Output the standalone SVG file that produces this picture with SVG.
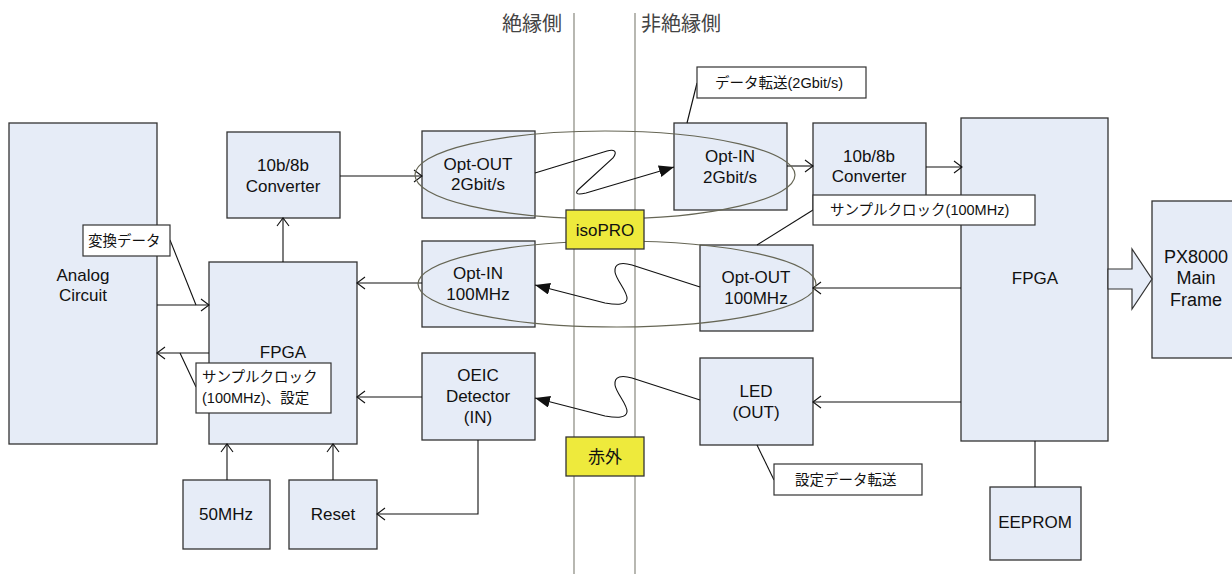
<svg xmlns="http://www.w3.org/2000/svg" width="1232" height="574" viewBox="0 0 1232 574">
<style>
.n{fill:#e6ecf7;stroke:#333;stroke-width:1.3}
.lb{fill:#fff;stroke:#333;stroke-width:1.2}
.y{fill:#eeea3c;stroke:#333;stroke-width:1.3}
.t{font-family:"Liberation Sans","Noto Sans CJK JP",sans-serif;font-size:17px;fill:#111;text-anchor:middle}
.s{font-family:"Liberation Sans","Noto Sans CJK JP",sans-serif;font-size:14.5px;fill:#111}
.h{font-family:"Noto Sans CJK JP",sans-serif;font-size:20px;fill:#444}
.c{fill:none;stroke:#111;stroke-width:1.1}
.a{marker-end:url(#oa)}
.f{marker-end:url(#fa)}
.e{fill:none;stroke:#666655;stroke-width:1.2}
.v{stroke:#88887e;stroke-width:1.2}
</style>
<defs>
<marker id="oa" markerWidth="12" markerHeight="14" refX="10" refY="7" orient="auto" markerUnits="userSpaceOnUse"><polyline points="2,1 10,7 2,13" fill="none" stroke="#111" stroke-width="1.1"/></marker>
<marker id="fa" markerWidth="16" markerHeight="12" refX="15" refY="6" orient="auto" markerUnits="userSpaceOnUse"><polygon points="0,0 15,6 0,12" fill="#111"/></marker>
</defs>
<g id="sides">
<line class="v" x1="574" y1="13" x2="574" y2="574"/>
<line class="v" x1="635" y1="13" x2="635" y2="574"/>
<text class="h" x="502" y="31">絶縁側</text>
<text class="h" x="641" y="31">非絶縁側</text>
</g>
<g id="analog"><rect class="n" x="9" y="123" width="148" height="321"/><text class="t" x="83" y="281">Analog</text><text class="t" x="83" y="301">Circuit</text></g>
<g id="conv-l"><rect class="n" x="227" y="132" width="113" height="86"/><text class="t" x="283" y="171">10b/8b</text><text class="t" x="283" y="192">Converter</text></g>
<g id="fpga-l"><rect class="n" x="209" y="262" width="148" height="182"/><text class="t" x="283" y="358">FPGA</text></g>
<g id="optout-2g"><rect class="n" x="422" y="131" width="113" height="87"/><text class="t" x="478" y="170">Opt-OUT</text><text class="t" x="478" y="190">2Gbit/s</text></g>
<g id="optin-2g"><rect class="n" x="674" y="123" width="113" height="87"/><text class="t" x="730" y="162">Opt-IN</text><text class="t" x="730" y="183">2Gbit/s</text></g>
<g id="conv-r"><rect class="n" x="813" y="123" width="113" height="87"/><text class="t" x="869" y="162">10b/8b</text><text class="t" x="869" y="182">Converter</text></g>
<g id="optin-100"><rect class="n" x="422" y="241" width="113" height="86"/><text class="t" x="478" y="279">Opt-IN</text><text class="t" x="478" y="300">100MHz</text></g>
<g id="optout-100"><rect class="n" x="700" y="245" width="113" height="86"/><text class="t" x="756" y="283">Opt-OUT</text><text class="t" x="756" y="304">100MHz</text></g>
<g id="oeic"><rect class="n" x="422" y="353" width="113" height="87"/><text class="t" x="478" y="381">OEIC</text><text class="t" x="478" y="402">Detector</text><text class="t" x="478" y="423">(IN)</text></g>
<g id="led"><rect class="n" x="700" y="358" width="113" height="87"/><text class="t" x="756" y="397">LED</text><text class="t" x="756" y="418">(OUT)</text></g>
<g id="fpga-r"><rect class="n" x="961" y="118" width="147" height="323"/><text class="t" x="1035" y="284">FPGA</text></g>
<g id="px8000"><rect class="n" x="1152" y="201" width="90" height="157"/><text class="t" x="1196" y="263" style="font-size:18px">PX8000</text><text class="t" x="1196" y="284" style="font-size:18px">Main</text><text class="t" x="1196" y="306" style="font-size:18px">Frame</text></g>
<g id="eeprom"><rect class="n" x="990" y="487" width="91" height="73"/><text class="t" x="1035" y="528">EEPROM</text></g>
<g id="clk50"><rect class="n" x="183" y="480" width="87" height="69"/><text class="t" x="226" y="520">50MHz</text></g>
<g id="reset"><rect class="n" x="289" y="480" width="88" height="69"/><text class="t" x="333" y="520">Reset</text></g>
<g id="connectors">
<line class="c a" x1="157" y1="305" x2="209" y2="305"/>
<line class="c a" x1="209" y1="353" x2="157" y2="353"/>
<line class="c a" x1="283" y1="262" x2="283" y2="218"/>
<line class="c a" x1="340" y1="176" x2="422" y2="176"/>
<line class="c a" x1="787" y1="166" x2="813" y2="166"/>
<line class="c a" x1="926" y1="167" x2="962" y2="167"/>
<line class="c a" x1="422" y1="283" x2="357" y2="283"/>
<line class="c a" x1="422" y1="397" x2="357" y2="397"/>
<line class="c a" x1="961" y1="288" x2="813" y2="288"/>
<line class="c a" x1="961" y1="402" x2="813" y2="402"/>
<line class="c a" x1="227" y1="480" x2="227" y2="444"/>
<line class="c a" x1="333" y1="480" x2="333" y2="444"/>
<polyline class="c a" points="478,440 478,514 377,514"/>
<line class="c" x1="1035" y1="441" x2="1035" y2="487"/>
<path class="c f" d="M535,173 L607,151 C614,149 618,151 613,158 L579,189 C574,194 577,195 586,193 L674,167"/>
<path class="c f" d="M700,287 L632,265 C622,262 614,263 615,272 C616,280 628,292 627,299 C626,305 618,305 605,303 L535,285"/>
<path class="c f" d="M700,400 L632,378 C622,375 614,376 615,385 C616,393 628,405 627,412 C626,418 618,418 605,416 L535,398"/>
<polygon points="1108,269 1132,269 1132,249 1152,279 1132,309 1132,289 1108,289" fill="#e6ecf7" stroke="#333" stroke-width="1.2"/>
<line class="c" x1="170" y1="240" x2="196" y2="305"/>
<line class="c" x1="180" y1="353" x2="196" y2="387"/>
<line class="c" x1="697" y1="83" x2="687" y2="123"/>
<line class="c" x1="813" y1="210" x2="757" y2="245"/>
<line class="c" x1="757" y1="445" x2="774" y2="480"/>
</g>
<g id="ellipses">
<ellipse class="e" cx="605" cy="175" rx="190" ry="44"/>
<ellipse class="e" cx="617" cy="284" rx="199" ry="43"/>
</g>
<g id="isopro"><rect class="y" x="566" y="210" width="78" height="39"/><text class="t" x="605" y="236">isoPRO</text></g>
<g id="sekigai"><rect class="y" x="566" y="437" width="78" height="39"/><text class="t" x="605" y="463">赤外</text></g>
<g id="lbl-henkan"><rect class="lb" x="83" y="225" width="87" height="31"/><text class="s" x="88" y="246">変換データ</text></g>
<g id="lbl-clk-l"><rect class="lb" x="196" y="363" width="135" height="50"/><text class="s" x="202" y="382">サンプルクロック</text><text class="s" x="202" y="403">(100MHz)、設定</text></g>
<g id="lbl-data"><rect class="lb" x="697" y="67" width="169" height="31"/><text class="s" x="715" y="88">データ転送(2Gbit/s)</text></g>
<g id="lbl-clk-r"><rect class="lb" x="813" y="195" width="222" height="30"/><text class="s" x="830" y="215">サンプルクロック(100MHz)</text></g>
<g id="lbl-settei"><rect class="lb" x="774" y="464" width="148" height="31"/><text class="s" x="795" y="485">設定データ転送</text></g>
</svg>
